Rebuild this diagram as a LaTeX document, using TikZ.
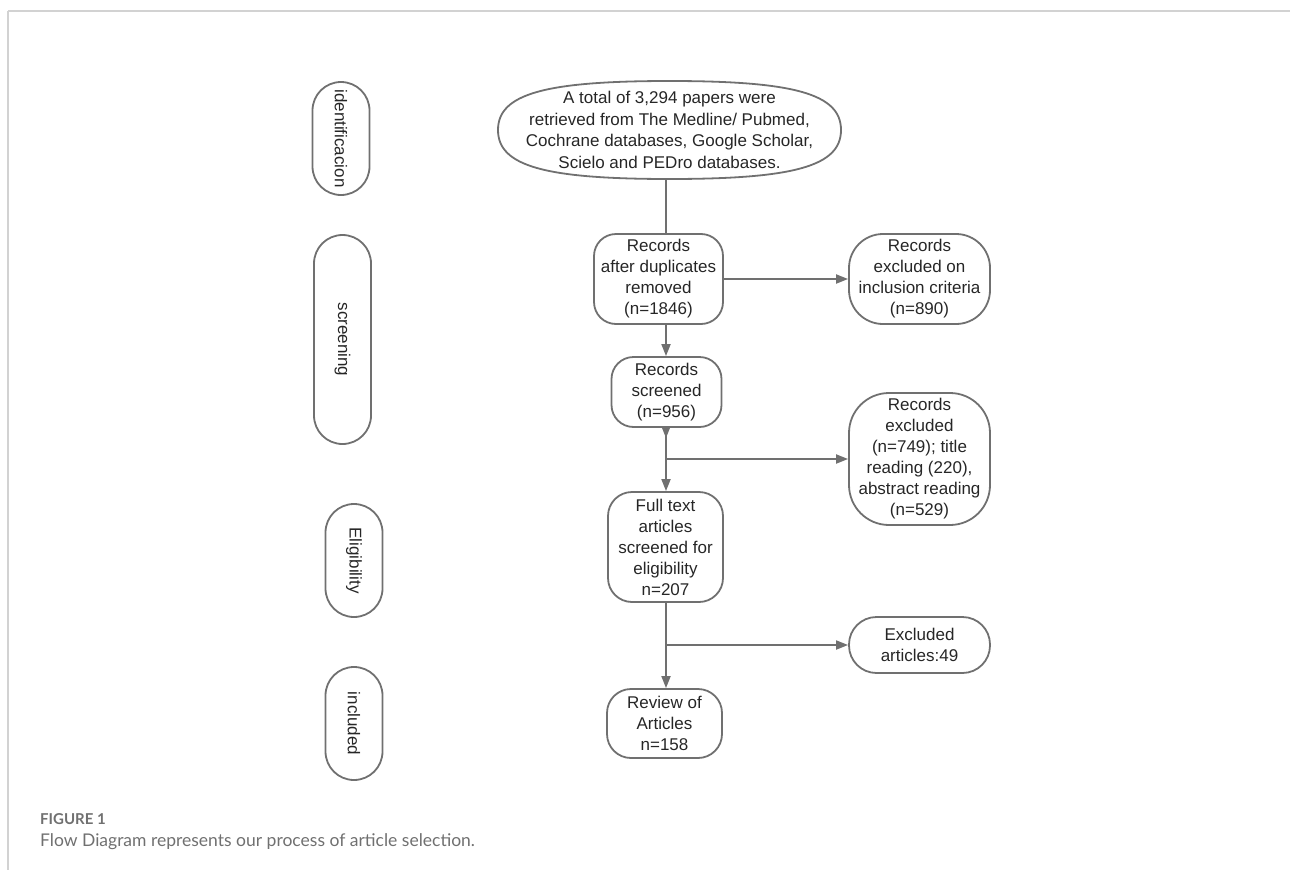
\documentclass[tikz,border=0pt]{standalone}
\usepackage{fontspec}
\setmainfont{Liberation Sans}
\newfontfamily\capfont{Lato}
\usetikzlibrary{arrows.meta,shapes.geometric,calc}
\definecolor{edge}{HTML}{707070}
\definecolor{txt}{HTML}{262626}
\definecolor{framec}{HTML}{D2D2D2}
\definecolor{captxt}{HTML}{707070}
\begin{document}
\begin{tikzpicture}[x=1pt,y=-1pt,
  box/.style={draw=edge,line width=1.8pt,rounded corners=#1,align=center,text=txt,
    font=\fontsize{17}{21}\selectfont,inner sep=0pt},
  stage/.style={draw=edge,line width=1.8pt,rounded corners=28.5pt,rotate=-90,
    minimum height=57pt,text=txt,font=\fontsize{17}{21}\selectfont,inner sep=0pt},
  conn/.style={draw=edge,line width=1.8pt},
  arr/.style={conn,-{Triangle[length=12pt,width=9pt]}},
  framel/.style={draw=framec}
]
\useasboundingbox (0,0) rectangle (1290,870);
% frame
\draw[framel,line width=2pt] (8,11) -- (1290,11);
\draw[framel,line width=1.2pt] (8,11) -- (8,870);
% stage labels
\node[stage,minimum width=113pt] (s1) at (341,138.5) {identificacion};
\node[stage,minimum width=209pt] (s2) at (342.5,339.5) {screening};
\node[stage,minimum width=113pt] (s3) at (354,560.5) {Eligibility};
\node[stage,minimum width=113pt] (s4) at (354,723.5) {included};
% main column: rounded (super-elliptic) start shape
\node[minimum width=343pt,minimum height=98pt,inner sep=0pt,outer sep=0pt] (e) at (669.5,130) {};
\draw[conn] (e.west) .. controls ($(e.west)+(0,-36)$) and ($(e.north)+(-125,0)$) .. (e.north)
  .. controls ($(e.north)+(125,0)$) and ($(e.east)+(0,-36)$) .. (e.east)
  .. controls ($(e.east)+(0,36)$) and ($(e.south)+(125,0)$) .. (e.south)
  .. controls ($(e.south)+(-125,0)$) and ($(e.west)+(0,36)$) .. (e.west) -- cycle;
\node[align=center,text=txt,inner sep=0pt,font=\fontsize{17}{21.5}\selectfont] (et) at (e.center)
  {A total of 3,294 papers were\\retrieved from The Medline/ Pubmed,\\Cochrane databases, Google Scholar,\\Scielo and PEDro databases.};
\node[box=22pt,minimum width=129pt,minimum height=90pt] (r1) at (658.5,279)
  {Records\\after duplicates\\removed\\(n=1846)};
\node[box=22pt,minimum width=110pt,minimum height=70pt] (r2) at (666.5,392)
  {Records\\screened\\(n=956)};
\node[box=24pt,minimum width=115pt,minimum height=110pt] (r3) at (665.5,547)
  {Full text\\articles\\screened for\\eligibility\\n=207};
\node[box=24pt,minimum width=115pt,minimum height=69pt] (r4) at (664.5,723.5)
  {Review of\\Articles\\n=158};
% right column
\node[box=34pt,minimum width=141pt,minimum height=90pt] (x1) at (919.5,279)
  {Records\\excluded on\\inclusion criteria\\(n=890)};
\node[box=40pt,minimum width=141pt,minimum height=132pt] (x2) at (919.5,459)
  {Records\\excluded\\(n=749); title\\reading (220),\\abstract reading\\(n=529)};
\node[box=27.5pt,minimum width=141pt,minimum height=56pt] (x3) at (919.5,645)
  {Excluded\\articles:49};
% spine
\coordinate (sp) at (666,0);
\draw[conn] (sp |- e.south) -- (sp |- r1.north);
\draw[arr] (sp |- r1.south) -- (sp |- r2.north);
\draw[arr] (r1.east) -- (x1.west);
\draw[arr] (sp |- r2.south) -- (sp |- r3.north);
\fill[edge] ($(sp |- r2.south)+(-4,0)$) -- ++(8,0) -- ++(-4,10) -- cycle;
\draw[arr] (sp |- x2.west) -- (x2.west);
\draw[arr] (sp |- r3.south) -- (sp |- r4.north);
\draw[arr] (sp |- x3.west) -- (x3.west);
% caption
\node[anchor=base west,inner sep=0pt,text=captxt,font=\capfont\bfseries\fontsize{15}{18}\selectfont] (fig) at (40,824) {FIGURE 1};
\node[anchor=base west,inner sep=0pt,text=captxt,font=\capfont\fontsize{17.5}{20}\selectfont] (cap) at (40,846) {Flow Diagram represents our process of article selection.};
\end{tikzpicture}
\end{document}
